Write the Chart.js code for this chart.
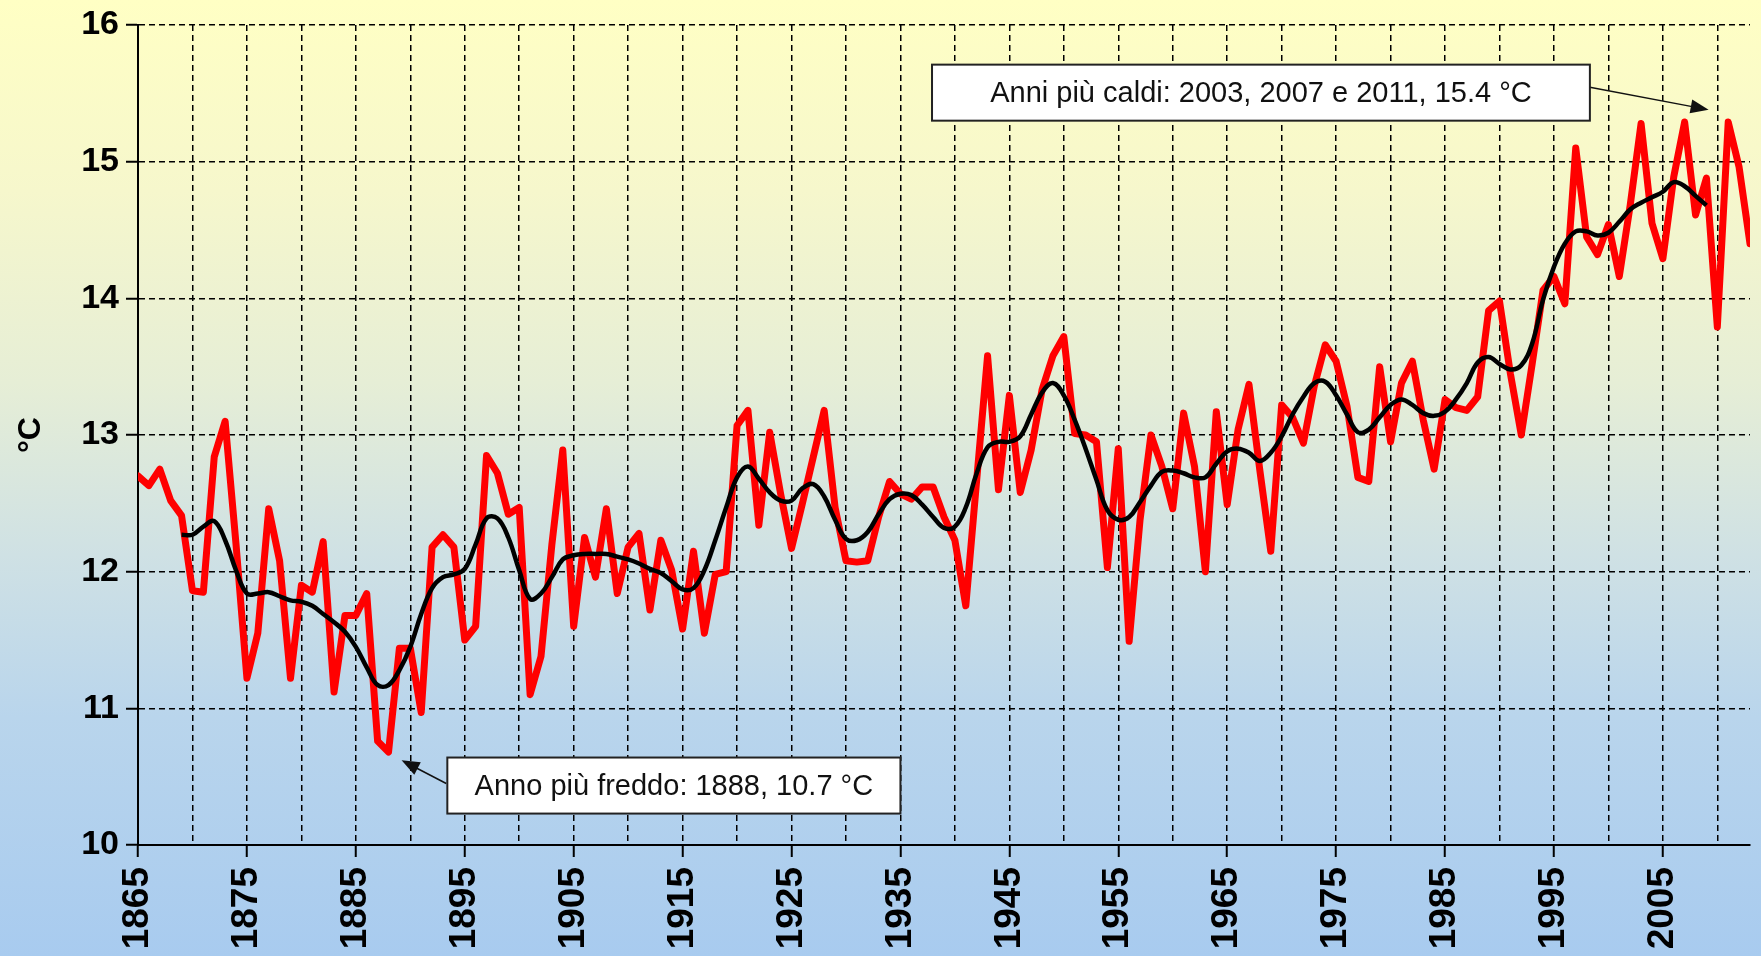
<!DOCTYPE html>
<html lang="it">
<head>
    <meta charset="UTF-8">
    <title>Temperatura media annua 1865-2013</title>
    <script src="https://cdn.jsdelivr.net/npm/chart.js@4"></script>
    <style>
        html, body { margin: 0; padding: 0; }
        body {
            width: 1761px; height: 956px; overflow: hidden;
            background: linear-gradient(to bottom, #ffffc4 0%, #f6f7cc 20%, #e6eed6 40%, #cfe1e4 58%, #b9d5ec 75%, #a8cbef 100%);
        }
        canvas { display: block; }
    </style>
</head>
<body>
    <canvas id="grafico" width="1761" height="956"></canvas>

    <script>
        // anni 1865 - 2013, temperatura media annua (°C)
        const primoAnno = 1865;
        const temperature = [
            12.70, 12.63, 12.75, 12.52, 12.41, 11.86, 11.85, 12.84, 13.10, 12.20,
            11.22, 11.55, 12.46, 12.08, 11.22, 11.90, 11.85, 12.22, 11.12, 11.68,
            11.68, 11.84, 10.76, 10.68, 11.44, 11.44, 10.97, 12.18, 12.27, 12.18,
            11.50, 11.60, 12.85, 12.72, 12.42, 12.47, 11.10, 11.38, 12.20, 12.89,
            11.60, 12.25, 11.96, 12.46, 11.84, 12.18, 12.28, 11.72, 12.23, 12.01,
            11.58, 12.15, 11.55, 11.98, 12.00, 13.07, 13.18, 12.34, 13.02, 12.57,
            12.17, 12.50, 12.84, 13.18, 12.47, 12.08, 12.07, 12.08, 12.40, 12.66,
            12.57, 12.53, 12.62, 12.62, 12.40, 12.23, 11.75, 12.67, 13.58, 12.60,
            13.29, 12.58, 12.89, 13.33, 13.58, 13.72, 13.01, 13.00, 12.95, 12.03,
            12.90, 11.49, 12.38, 13.00, 12.77, 12.46, 13.16, 12.77, 12.00, 13.17,
            12.49, 13.04, 13.37, 12.74, 12.15, 13.22, 13.13, 12.94, 13.36, 13.66,
            13.54, 13.21, 12.69, 12.66, 13.50, 12.95, 13.38, 13.54, 13.11, 12.75,
            13.26, 13.20, 13.18, 13.28, 13.91, 13.98, 13.45, 13.00, 13.52, 14.06,
            14.16, 13.96, 15.10, 14.45, 14.32, 14.54, 14.16, 14.68, 15.28, 14.55,
            14.29, 14.89, 15.29, 14.61, 14.88, 13.79, 15.29, 14.96, 14.40
        ];

        // media mobile, anni 1869 - 2009
        const primoAnnoMedia = 1869;
        const mediaMobile = [
            12.27, 12.27, 12.33, 12.37, 12.23, 12.01, 11.84, 11.84, 11.85, 11.82,
            11.79, 11.78, 11.75, 11.69, 11.63, 11.56, 11.45, 11.30, 11.17, 11.17,
            11.28, 11.45, 11.69, 11.88, 11.96, 11.98, 12.02, 12.20, 12.39, 12.39,
            12.25, 12.01, 11.80, 11.84, 11.96, 12.09, 12.12, 12.13, 12.13, 12.13,
            12.11, 12.09, 12.06, 12.02, 11.99, 11.93, 11.87, 11.88, 12.01, 12.23,
            12.47, 12.69, 12.77, 12.68, 12.58, 12.52, 12.52, 12.61, 12.64, 12.55,
            12.38, 12.24, 12.23, 12.29, 12.42, 12.53, 12.57, 12.56, 12.49, 12.40,
            12.32, 12.33, 12.47, 12.72, 12.91, 12.95, 12.95, 12.99, 13.15, 13.31,
            13.38, 13.29, 13.11, 12.90, 12.67, 12.45, 12.38, 12.40, 12.51, 12.63,
            12.73, 12.74, 12.72, 12.69, 12.69, 12.79, 12.88, 12.90, 12.87, 12.81,
            12.87, 12.99, 13.15, 13.28, 13.38, 13.39, 13.29, 13.15, 13.02, 13.04,
            13.13, 13.22, 13.26, 13.22, 13.16, 13.14, 13.17, 13.26, 13.38, 13.53,
            13.57, 13.52, 13.48, 13.51, 13.67, 13.99, 14.23, 14.40, 14.49, 14.49,
            14.46, 14.48, 14.56, 14.65, 14.70, 14.74, 14.78, 14.85, 14.82, 14.75,
            14.68
        ];

        const anniEtichetta = [1865, 1875, 1885, 1895, 1905, 1915, 1925, 1935, 1945, 1955, 1965, 1975, 1985, 1995, 2005];
        const anniGriglia = [1865, 1870, 1875, 1880, 1885, 1890, 1895, 1900, 1905, 1910, 1915, 1920, 1925, 1930, 1935,
            1940, 1945, 1950, 1955, 1960, 1965, 1970, 1975, 1980, 1985, 1990, 1995, 2000, 2005, 2010];
        const ultimoAnno = 2013;
        const valoriY = [10, 11, 12, 13, 14, 15, 16];

        // riquadri di testo: [anno sx, anno dx, valore alto, valore basso], freccia: [da anno, da valore, a anno, a valore]
        const note = [
            { testo: 'Anni più caldi: 2003, 2007 e 2011, 15.4 °C', box: [1937.9, 1998.3, 15.71, 15.30], freccia: [1998.3, 15.545, 2009.2, 15.38] },
            { testo: 'Anno più freddo: 1888, 10.7 °C', box: [1893.4, 1935.0, 10.64, 10.23], freccia: [1893.3, 10.45, 1889.2, 10.62] }
        ];

        const FONT = 'Arial, "Liberation Sans", sans-serif';

        const pluginNote = {
            id: 'note',
            afterDatasetsDraw(chart) {
                const ctx = chart.ctx;
                const x = chart.scales.x, y = chart.scales.y;
                ctx.save();
                note.forEach(n => {
                    // freccia
                    const x1 = x.getPixelForValue(n.freccia[0]), y1 = y.getPixelForValue(n.freccia[1]);
                    const x2 = x.getPixelForValue(n.freccia[2]), y2 = y.getPixelForValue(n.freccia[3]);
                    const ang = Math.atan2(y2 - y1, x2 - x1);
                    ctx.strokeStyle = '#111';
                    ctx.fillStyle = '#111';
                    ctx.lineWidth = 1.5;
                    ctx.beginPath();
                    ctx.moveTo(x1, y1);
                    ctx.lineTo(x2 - 14 * Math.cos(ang), y2 - 14 * Math.sin(ang));
                    ctx.stroke();
                    ctx.beginPath();
                    ctx.moveTo(x2, y2);
                    ctx.lineTo(x2 - 18 * Math.cos(ang) + 7 * Math.sin(ang), y2 - 18 * Math.sin(ang) - 7 * Math.cos(ang));
                    ctx.lineTo(x2 - 18 * Math.cos(ang) - 7 * Math.sin(ang), y2 - 18 * Math.sin(ang) + 7 * Math.cos(ang));
                    ctx.closePath();
                    ctx.fill();

                    // riquadro
                    const bx1 = x.getPixelForValue(n.box[0]), bx2 = x.getPixelForValue(n.box[1]);
                    const by1 = y.getPixelForValue(n.box[2]), by2 = y.getPixelForValue(n.box[3]);
                    ctx.fillStyle = '#ffffff';
                    ctx.fillRect(bx1, by1, bx2 - bx1, by2 - by1);
                    ctx.lineWidth = 2;
                    ctx.strokeStyle = '#222';
                    ctx.strokeRect(bx1, by1, bx2 - bx1, by2 - by1);
                    ctx.fillStyle = '#111';
                    ctx.font = '29px ' + FONT;
                    ctx.textAlign = 'center';
                    ctx.textBaseline = 'middle';
                    ctx.fillText(n.testo, (bx1 + bx2) / 2, (by1 + by2) / 2 + 1);
                });
                ctx.restore();
            }
        };

        const tickVisibile = c => c.tick && anniEtichetta.includes(c.tick.value);

        new Chart(document.getElementById('grafico'), {
            type: 'line',
            data: {
                datasets: [
                    {
                        label: 'Media mobile',
                        data: mediaMobile.map((v, i) => ({ x: primoAnnoMedia + i, y: v })),
                        borderColor: '#000000',
                        borderWidth: 4.5,
                        tension: 0.4,
                        pointRadius: 0,
                        borderJoinStyle: 'round',
                        order: 0
                    },
                    {
                        label: 'Temperatura media annua',
                        data: temperature.map((v, i) => ({ x: primoAnno + i, y: v })),
                        borderColor: '#ff0000',
                        borderWidth: 7,
                        tension: 0,
                        pointRadius: 0,
                        borderJoinStyle: 'round',
                        borderCapStyle: 'round',
                        order: 1
                    }
                ]
            },
            options: {
                responsive: false,
                devicePixelRatio: 1,
                animation: false,
                layout: { padding: { top: 25, right: 11, bottom: 0, left: 0 } },
                plugins: {
                    legend: { display: false },
                    tooltip: { enabled: false }
                },
                scales: {
                    x: {
                        type: 'linear',
                        min: primoAnno,
                        max: ultimoAnno,
                        afterBuildTicks: s => { s.ticks = anniGriglia.map(v => ({ value: v })); },
                        afterFit: s => { s.height = 111; s.paddingRight = 0; s.paddingLeft = 0; },
                        ticks: {
                            autoSkip: false,
                            maxRotation: 90,
                            minRotation: 90,
                            padding: 10,
                            color: '#000',
                            font: { family: FONT, size: 37, weight: 'bold' },
                            callback: v => anniEtichetta.includes(v) ? String(v) : ''
                        },
                        grid: {
                            color: '#000',
                            lineWidth: 1.5,
                            tickLength: 12,
                            tickWidth: 2,
                            tickColor: c => tickVisibile(c) ? '#000' : 'rgba(0,0,0,0)'
                        },
                        border: { color: '#000', width: 2, dash: [6, 4] }
                    },
                    y: {
                        min: valoriY[0],
                        max: valoriY[valoriY.length - 1],
                        afterBuildTicks: s => { s.ticks = valoriY.map(v => ({ value: v })); },
                        afterFit: s => { s.width = 138; },
                        ticks: {
                            padding: 7,
                            color: '#000',
                            font: { family: FONT, size: 34, weight: 'bold', lineHeight: 1 }
                        },
                        grid: {
                            color: '#000',
                            lineWidth: 1.5,
                            tickLength: 12,
                            tickWidth: 2,
                            tickColor: '#000'
                        },
                        border: { color: '#000', width: 2, dash: [6, 4] },
                        title: {
                            display: true,
                            text: '°C',
                            color: '#000',
                            font: { family: FONT, size: 32, weight: 'bold' },
                            padding: { top: 12, bottom: 0 }
                        }
                    }
                }
            },
            plugins: [pluginNote]
        });
    </script>
</body>
</html>
